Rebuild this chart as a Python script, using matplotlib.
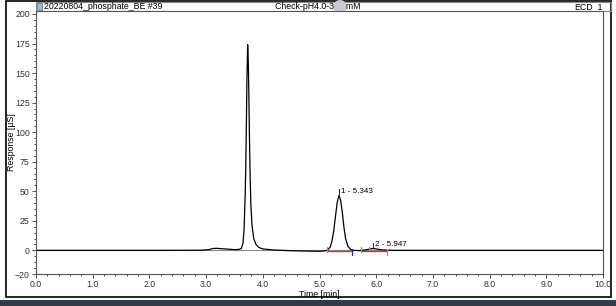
import matplotlib.pyplot as plt
from matplotlib.patches import Rectangle, Circle
from matplotlib.ticker import MultipleLocator

plt.rcParams['font.family'] = ['Liberation Sans', 'DejaVu Sans']

# chromatogram trace (time [min], response [uS])
time_min = [0.0, 1.0, 2.0, 2.9, 3.05, 3.12, 3.2, 3.3, 3.4, 3.5, 3.58, 3.62,
            3.65, 3.67, 3.69, 3.70, 3.71, 3.72, 3.733, 3.745, 3.755, 3.765,
            3.775, 3.79, 3.81, 3.84, 3.88, 3.93, 4.0, 4.2, 4.5, 4.8, 5.0,
            5.1, 5.15, 5.19, 5.22, 5.25, 5.28, 5.31, 5.343, 5.37, 5.40,
            5.43, 5.46, 5.50, 5.55, 5.60, 5.70, 5.80, 5.88, 5.947, 6.0,
            6.1, 6.3, 7.0, 8.0, 9.0, 10.0]
response = [0.0, 0.0, 0.0, 0.1, 0.6, 1.6, 1.7, 1.3, 1.0, 0.6, 0.8, 1.5,
            6.0, 18.0, 48.0, 72.0, 105.0, 145.0, 174.0, 158.0, 128.0, 95.0,
            66.0, 38.0, 21.0, 10.0, 5.0, 2.5, 1.2, 0.3, -0.3, -0.6, -0.8,
            -0.4, 0.5, 3.0, 8.0, 16.0, 28.0, 40.0, 46.5, 43.0, 33.0,
            20.0, 10.0, 3.5, 0.8, 0.0, -0.2, 0.3, 1.0, 1.6, 1.2,
            0.4, 0.0, 0.0, 0.0, 0.0, 0.0]

# integrated peaks
peak_names = ['1 - 5.343', '2 - 5.947']
peak_rt = [5.343, 5.947]
peak_top = [46.5, 1.6]
peak_start = [5.13, 5.73]
peak_end = [5.57, 6.19]

x_ticks = [0.0, 1.0, 2.0, 3.0, 4.0, 5.0, 6.0, 7.0, 8.0, 9.0, 10.0]
y_ticks = [-20, 0, 25, 50, 75, 100, 125, 150, 175, 200]

W, H = 616, 306
fig = plt.figure(figsize=(W / 100, H / 100), dpi=100)

# background frame in pixel coordinates
bg = fig.add_axes([0, 0, 1, 1])
bg.set_xlim(0, W)
bg.set_ylim(H, 0)
bg.axis('off')
bg.add_patch(Rectangle((6, 1), 605, 296, fill=False, ec='black', lw=1.2))
bg.add_patch(Rectangle((36, 2), 575, 9, fill=False, ec='#888888', lw=0.8))
bg.add_patch(Rectangle((0, 300), W, 6, fc='#333a44', ec='none'))
bg.add_patch(Rectangle((37, 3), 5, 7, fc='#9fb4c8', ec='#555555', lw=0.4))
bg.text(44, 6.5, '20220804_phosphate_BE #39', fontsize=6.3, va='center', ha='left')
bg.text(318, 6.5, 'Check-pH4.0-3     mM', fontsize=6.3, va='center', ha='center')
bg.add_patch(Circle((340, 7), 7, fc='#c8ccd2', ec='none'))
bg.text(603, 6.5, 'ECD_1', fontsize=6.3, va='center', ha='right')

L, R, T, B = 36, 603, 11, 274
ax = fig.add_axes([L / W, 1 - B / H, (R - L) / W, (B - T) / H])
ax.axhline(0, color='#888888', lw=0.8)
ax.plot(time_min, response, color='black', lw=0.9)

for name, rt, top, s, e in zip(peak_names, peak_rt, peak_top, peak_start, peak_end):
    ax.plot([s, e], [-0.6, -0.6], color='#e03030', lw=1.0)
    ax.plot([s, s], [-1, 3], color='#8888ff', lw=0.8)
    ax.plot([e, e], [-4, 1], color='#8888ff' if rt > 5.9 else '#2222cc', lw=0.8)
    ax.plot([rt, rt], [top + 1, top + 5], color='#2222cc', lw=0.8)
    ax.text(rt + 0.03, top + 3, name, fontsize=5.8, va='center', ha='left')
ax.plot([5.88, 5.88], [0, 3], color='#8888ff', lw=0.8)

ax.set_xlim(0, 10)
ax.set_ylim(-20, 202.5)
ax.set_xticks(x_ticks)
ax.set_xticklabels(['%.1f' % v for v in x_ticks])
ax.set_yticks(y_ticks)
ax.xaxis.set_minor_locator(MultipleLocator(0.2))
ax.yaxis.set_minor_locator(MultipleLocator(5))
ax.tick_params(labelsize=6.3, length=3, width=0.6, pad=1.5, colors='#333333')
ax.tick_params(which='minor', length=1.5, width=0.5)
for side in ['left', 'bottom', 'right', 'top']:
    ax.spines[side].set_linewidth(0.8)
    ax.spines[side].set_color('#555555')
ax.set_xlabel('Time [min]', fontsize=6.3)
ax.set_ylabel('Response [µS]', fontsize=6.3)
ax.yaxis.set_label_coords((16 - L) / (R - L), 0.5)
ax.xaxis.set_label_coords(0.5, (B - 290) / (B - T))

fig.savefig('out.png', dpi=100)
